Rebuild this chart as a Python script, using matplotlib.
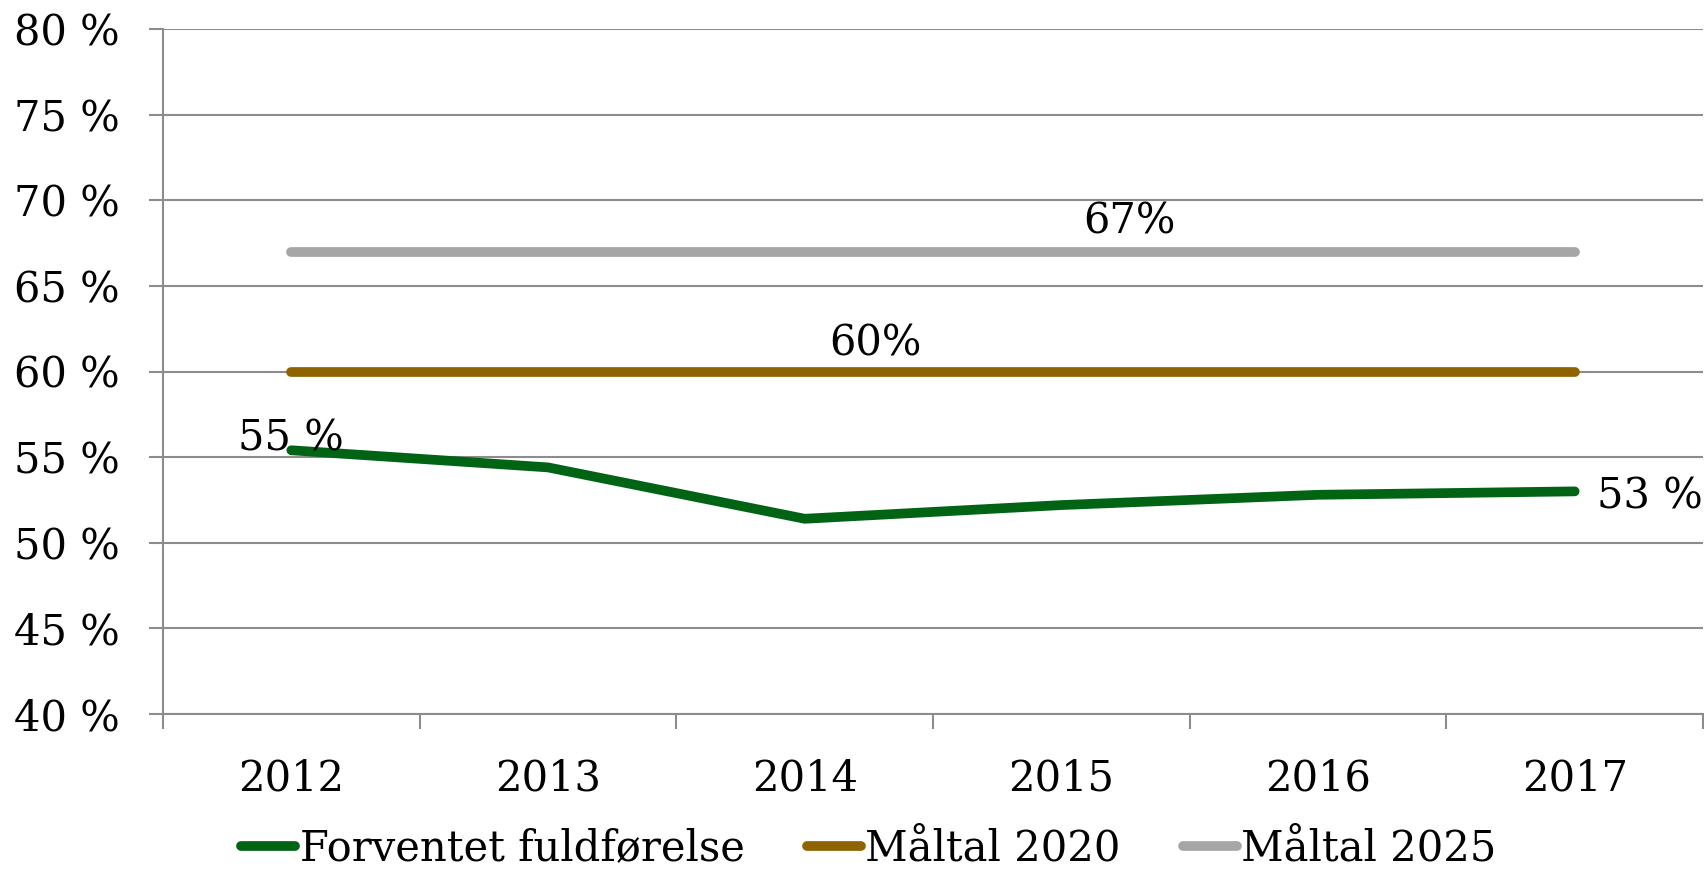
import matplotlib
matplotlib.use("Agg")
import matplotlib.pyplot as plt
import numpy as np

years = ["2012", "2013", "2014", "2015", "2016", "2017"]
forventet = [55.4, 54.4, 51.4, 52.2, 52.8, 53.0]
maal_2020 = [60, 60, 60, 60, 60, 60]
maal_2025 = [67, 67, 67, 67, 67, 67]
yticks = [40, 45, 50, 55, 60, 65, 70, 75, 80]
ytick_labels = ["40 %", "45 %", "50 %", "55 %", "60 %", "65 %", "70 %", "75 %", "80 %"]

plt.rcParams['font.family'] = ['DejaVu Serif']
FS = 30

fig = plt.figure(figsize=(17.04, 8.73), dpi=100)
ax = fig.add_axes([163/1704, 1-714/873, 1540/1704, 685/873])

x = np.arange(len(years))
grid_c = "#8c8c8c"
l1, = ax.plot(x, forventet, color="#006414", lw=7, solid_capstyle="round", zorder=4, label="Forventet fuldførelse")
l2, = ax.plot(x, maal_2020, color="#8f6400", lw=7, solid_capstyle="round", zorder=3, label="Måltal 2020")
l3, = ax.plot(x, maal_2025, color="#a6a6a6", lw=7, solid_capstyle="round", zorder=3, label="Måltal 2025")

ax.set_xlim(-0.5, len(years) - 0.5)
ax.set_ylim(40, 80)
ax.set_yticks(yticks)
ax.set_yticklabels(ytick_labels, fontsize=FS)
ax.yaxis.grid(True, color=grid_c, lw=1.5)
ax.set_axisbelow(True)
ax.tick_params(axis="y", length=10, width=1.5, color=grid_c, pad=21)

ax.set_xticks(np.arange(len(years) + 1) - 0.5)
ax.set_xticklabels([])
ax.set_xticks(x, minor=True)
ax.set_xticklabels(years, minor=True, fontsize=FS)
ax.tick_params(axis="x", which="major", length=11, width=1.5, color=grid_c, direction="out")
ax.tick_params(axis="x", which="minor", length=0, pad=31)

for s in ["top", "right"]:
    ax.spines[s].set_visible(False)
for s in ["left", "bottom"]:
    ax.spines[s].set_color(grid_c)
    ax.spines[s].set_linewidth(1.5)

ax.annotate(f"{round(forventet[0])} %", (x[0], forventet[0]), xytext=(0, 0), textcoords="offset points",
            ha="center", va="baseline", fontsize=FS, zorder=5)
ax.annotate(f"{round(forventet[-1])} %", (x[-1], forventet[-1]), xytext=(16, -4), textcoords="offset points",
            ha="left", va="center", fontsize=FS, zorder=5)
ax.annotate(f"{maal_2020[0]}%", (2.274, maal_2020[0]), xytext=(0, 20), textcoords="offset points",
            ha="center", va="center", fontsize=FS)
ax.annotate(f"{maal_2025[0]}%", (3.267, maal_2025[0]), xytext=(0, 22), textcoords="offset points",
            ha="center", va="center", fontsize=FS)

fig.legend(handles=[l1, l2, l3], loc="center", bbox_to_anchor=(0.51, 0.028), ncol=3, frameon=False,
           fontsize=30, handlelength=1.3, handletextpad=0.1, columnspacing=1.5)

fig.savefig("out.png", dpi=100)
